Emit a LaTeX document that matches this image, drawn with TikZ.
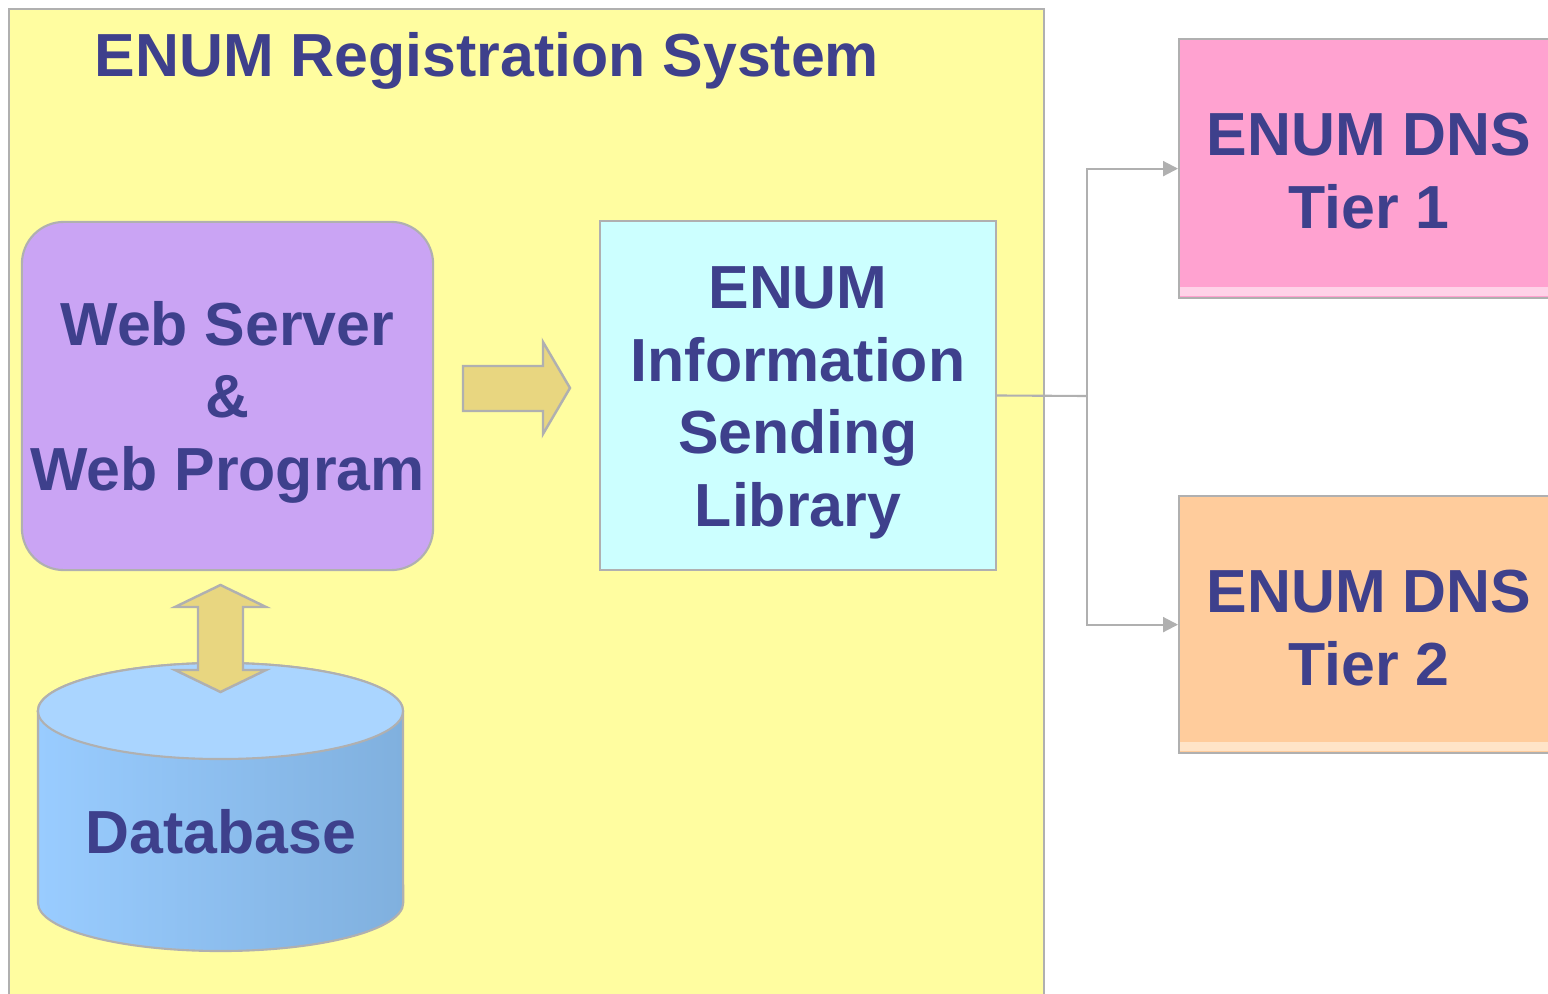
\documentclass[tikz,border=0pt]{standalone}
\usepackage{fontspec}
\setmainfont{Liberation Sans}
\usetikzlibrary{arrows.meta}
\definecolor{txtblue}{RGB}{62,64,140}
\definecolor{bordergray}{RGB}{176,176,176}
\definecolor{bgyellow}{RGB}{255,253,160}
\definecolor{webpurple}{RGB}{202,164,244}
\definecolor{infocyan}{RGB}{204,255,255}
\definecolor{arrowfill}{RGB}{232,214,128}
\definecolor{tierpink}{RGB}{255,162,208}
\definecolor{tierpinklight}{RGB}{255,210,232}
\definecolor{tierorange}{RGB}{255,204,156}
\definecolor{tierorangelight}{RGB}{255,228,200}
\definecolor{dbleft}{RGB}{153,204,255}
\definecolor{dbright}{RGB}{128,176,222}
\definecolor{dbtop}{RGB}{170,213,255}
\tikzset{
  bigtext/.style={text=txtblue, font=\fontsize{17.3}{20.6}\selectfont\bfseries, align=center},
  boxnode/.style={draw=bordergray, line width=0.6pt, inner sep=0pt},
  blockarrow/.style={fill=arrowfill, draw=bordergray, line width=0.7pt, line join=miter},
  conn/.style={draw=bordergray, line width=0.6pt},
}
\begin{document}
\begin{tikzpicture}[x=0.01cm, y=-0.01cm]
\useasboundingbox (0,0) rectangle (1548,994);
\clip (0,0) rectangle (1548,994);
% yellow system box
\node[draw=bordergray, line width=0.7pt, fill=bgyellow, inner sep=0pt, minimum width=10.34cm, minimum height=10.1cm, anchor=north west] (sys) at (8,8) {};
\node[bigtext, anchor=base] (title) at (487,77) {ENUM Registration System};
% web server
\node[boxnode, fill=webpurple, rounded corners=0.42cm, minimum width=4.11cm, minimum height=3.48cm] (web) at (227.5,396) {};
\node[bigtext] (webtext) at (227.5,402) {Web Server\\\&\\Web Program};
% info library
\node[boxnode, fill=infocyan, minimum width=3.96cm, minimum height=3.49cm] (info) at (798,395.5) {};
\node[bigtext] (infotext) at (798,403) {ENUM\\Information\\Sending\\Library};
% right block arrow
\draw[blockarrow] (463,366) -- (543,366) -- (543,342) -- (570,388) -- (543,434) -- (543,411) -- (463,411) -- cycle;
% database cylinder
\coordinate (dbc) at (220.5,711);
\draw[draw=bordergray, line width=0.6pt, left color=dbleft, right color=dbright]
  (38,711) -- (38,903) arc (180:360:1.825cm and 0.48cm) -- (403,711) arc (0:180:1.825cm and 0.48cm) -- cycle;
\draw[draw=bordergray, line width=0.6pt, fill=dbtop] (dbc) ellipse (1.825cm and 0.48cm);
\node[bigtext, anchor=base] (db) at (221,853) {Database};
% double arrow
\draw[blockarrow] (220.5,585) -- (266,607) -- (243,607) -- (243,670) -- (266,670) -- (220.5,692) -- (175,670) -- (198,670) -- (198,607) -- (175,607) -- cycle;
% tier boxes
\node[boxnode, fill=tierpink, minimum width=3.82cm, minimum height=2.59cm, anchor=north west] (t1) at (1178,38) {};
\fill[tierpinklight] (1180,287) rectangle (1560,296);
\node[bigtext] (t1text) at (1369,171) {ENUM DNS\\Tier 1};
\node[boxnode, fill=tierorange, minimum width=3.82cm, minimum height=2.57cm, anchor=north west] (t2) at (1178,495) {};
\fill[tierorangelight] (1180,742) rectangle (1560,751);
\node[bigtext] (t2text) at (1369,628) {ENUM DNS\\Tier 2};
% connectors
\coordinate (split) at (1087,396);
\draw[conn] (info.east) -- (split);
\draw[conn, -{Triangle[length=4.2pt, width=4.2pt]}, bordergray] (split) |- (t1.west);
\draw[conn, -{Triangle[length=4.2pt, width=4.2pt]}, bordergray] (split) |- (t2.west);
\end{tikzpicture}
\end{document}
